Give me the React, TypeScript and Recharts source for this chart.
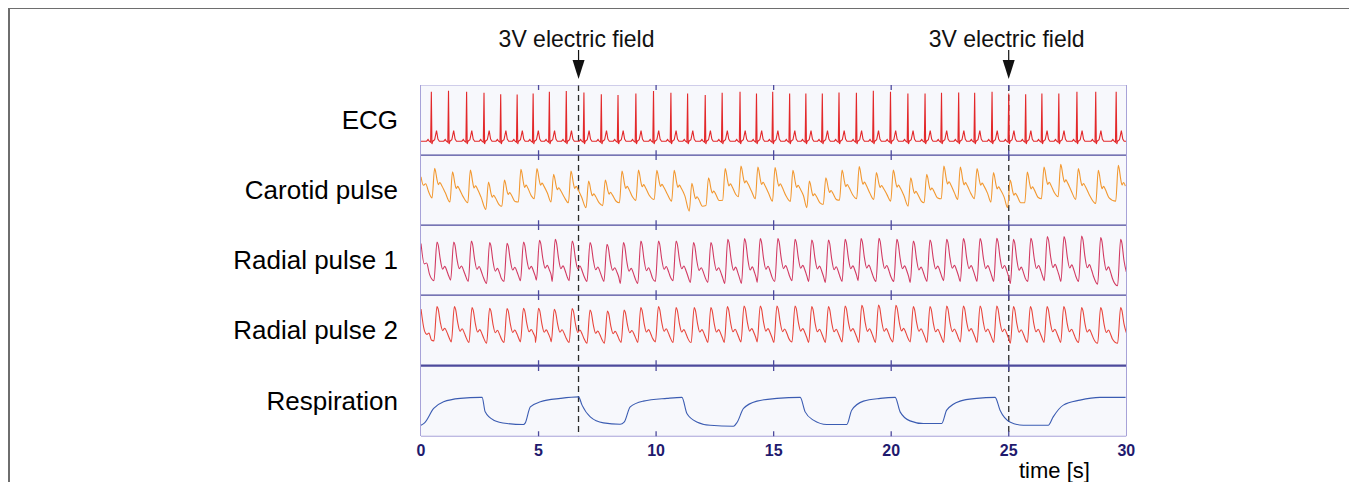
import React from "react";
import { LineChart, Line, XAxis, YAxis, ReferenceLine } from "recharts";

// values (time in s, amplitude in % of panel height)
const stimTimes = [6.7, 25];
const stimLabel = "3V electric field";
const innerTicks = [5, 10, 15, 20, 25];
const timeTicks = [0, 5, 10, 15, 20, 25, 30];
const channelNames = ["ECG", "Carotid pulse", "Radial pulse 1", "Radial pulse 2", "Respiration"];

const ecgBeatTimes = [0.44, 1.17, 1.94, 2.68, 3.39, 4.09, 4.77, 5.46, 6.18, 6.93, 7.67, 8.38, 9.14, 9.89, 10.63, 11.34, 12.09, 12.81, 13.57, 14.27, 14.96, 15.68, 16.37, 17.07, 17.78, 18.52, 19.24, 19.97, 20.71, 21.44, 22.14, 22.87, 23.55, 24.29, 25.0, 25.72, 26.41, 27.13, 27.9, 28.7, 29.57];
const ecgPeaks = [90.4, 91.8, 90.4, 88.9, 87, 86.5, 88, 90.4, 91.3, 89.4, 87, 85.6, 88, 91.3, 88.9, 88, 85.6, 88.9, 90.4, 88, 90.4, 88, 88, 88, 89.4, 88.9, 91.8, 90.4, 88, 88, 88.9, 89.4, 88.9, 90.4, 88, 87, 88, 88, 90.4, 90.4, 90.4];
const ecgBaseline = 20;
// one beat around the R wave: [seconds from R, offset from baseline]
const ecgBefore = [[-0.2, 0], [-0.14, 2.5], [-0.09, 0], [-0.03, -1.5]];
const ecgAfter = [[0.025, -4], [0.06, 0], [0.14, 2], [0.22, 15], [0.28, 3], [0.34, 0]];

const carotidTimes = [0.58, 1.34, 2.1, 2.87, 3.55, 4.25, 4.93, 5.64, 6.38, 7.13, 7.84, 8.55, 9.25, 10.03, 10.77, 11.52, 12.23, 12.94, 13.61, 14.33, 15.06, 15.82, 16.52, 17.22, 17.91, 18.64, 19.37, 20.09, 20.83, 21.51, 22.24, 22.94, 23.65, 24.35, 25.06, 25.79, 26.5, 27.21, 27.96, 28.81, 29.66];
const carotidPeaks = [81, 76, 78.6, 61.4, 64.3, 79.6, 80.6, 72.4, 77.1, 62.9, 64.3, 77.1, 78.6, 78.1, 78.1, 59.6, 67.7, 80.6, 84.3, 82.9, 82, 78.1, 62.9, 67.7, 78.6, 83.4, 74.9, 78.6, 67.7, 72.4, 84.3, 82.9, 80.6, 74.9, 64.3, 75.7, 82.9, 86.7, 80.6, 78.1, 85.3];
const carotidTroughs = [39, 33, 32, 22.4, 27, 33, 37.7, 33, 32, 24.9, 28, 32, 35.3, 36.7, 34.3, 20, 28, 35.7, 40.6, 37.7, 34.3, 34, 24.9, 29.6, 35.7, 37.7, 36.7, 34.3, 27.1, 32, 37.7, 36.7, 37.7, 32.9, 24.9, 32, 37.7, 40.6, 36.7, 31, 34.3];
const carotidStart = [[0, 68.8], [0.1, 57], [0.2, 59], [0.32, 48]];
const carotidShape = [[0.04, 0.9], [0.1, 0.62], [0.16, 0.45], [0.22, 0.52], [0.3, 0.42], [0.45, 0.18]];

const radial1Times = [0.68, 1.39, 2.14, 2.92, 3.66, 4.36, 5.04, 5.71, 6.43, 7.19, 7.91, 8.61, 9.35, 10.1, 10.85, 11.59, 12.33, 13.05, 13.76, 14.43, 15.18, 15.91, 16.62, 17.33, 18.04, 18.72, 19.48, 20.24, 20.94, 21.65, 22.36, 23.07, 23.78, 24.49, 25.2, 25.94, 26.64, 27.35, 28.1, 28.91, 29.76];
const radial1Peaks = [75.7, 75.7, 77.1, 74.9, 73.9, 75.7, 78.1, 79.6, 77.1, 74.9, 72.4, 74.9, 77.1, 77.1, 77.1, 74.9, 74.9, 79.6, 80.6, 80.6, 80.6, 79.6, 78.6, 78.6, 79.6, 80.6, 81, 79.6, 77.1, 78.6, 79.6, 80.6, 80.6, 81, 79.6, 81, 83.4, 83.4, 84.3, 82, 79.6];
const radial1Troughs = [20.7, 21.6, 19.7, 16.8, 19.7, 20.7, 21.6, 19.7, 20.7, 19.7, 19.7, 16.8, 16.8, 19.7, 20.7, 18.3, 18.3, 16.8, 16.8, 18.3, 19.7, 20.7, 19.7, 18.3, 19.7, 20.7, 19.7, 19.7, 18.3, 19.7, 20.7, 19.7, 19.7, 19.7, 16.8, 19.7, 20.7, 19.7, 19.7, 15.9, 13.5];
const radial1Start = [[0, 73.6], [0.14, 44.7], [0.24, 46], [0.36, 30]];

const radial2Times = [0.68, 1.42, 2.17, 2.92, 3.66, 4.36, 5.0, 5.67, 6.43, 7.19, 7.93, 8.64, 9.35, 10.1, 10.85, 11.62, 12.33, 13.03, 13.74, 14.43, 15.14, 15.91, 16.62, 17.33, 18.04, 18.75, 19.46, 20.2, 20.94, 21.65, 22.36, 23.07, 23.78, 24.49, 25.2, 25.92, 26.63, 27.34, 28.1, 28.91, 29.76];
const radial2Peaks = [83.5, 83.5, 82.1, 81.1, 80.7, 81.1, 81.1, 79.7, 80.7, 78.7, 77.2, 78.7, 82.1, 83.5, 82.1, 82.1, 82.1, 83.5, 84.4, 84.4, 84.4, 84.4, 83.5, 83.5, 84.4, 85.3, 85.8, 85.3, 83.5, 83.5, 84.4, 84.4, 84.4, 84.4, 83.5, 83.5, 83.5, 83.5, 82.1, 82.1, 82.1];
const radial2Troughs = [34.7, 33.3, 32.3, 31.3, 32.3, 33.3, 32.3, 33.3, 32.3, 31.3, 31.3, 32.3, 32.3, 33.3, 32.3, 32.3, 32.3, 32.3, 33.3, 33.3, 32.3, 33.3, 32.3, 32.3, 33.3, 32.3, 32.3, 33.3, 33.3, 32.3, 32.3, 33.3, 32.3, 32.3, 31.3, 32.3, 32.3, 32.3, 32.3, 31.3, 31.3];
const radial2Start = [[0, 80], [0.14, 50], [0.25, 44], [0.34, 46], [0.44, 36]];
const radialShape = [[0.05, 0.93], [0.14, 0.55], [0.24, 0.3], [0.33, 0.37], [0.43, 0.24], [0.5, 0.12]];

const respTimes = [0, 0.14, 0.54, 0.96, 1.67, 2.52, 2.6, 2.73, 3.09, 3.66, 4.36, 4.43, 4.65, 5.08, 5.93, 6.7, 6.85, 7.2, 7.76, 8.47, 8.64, 8.9, 9.46, 10.46, 11.1, 11.31, 11.73, 12.3, 13.29, 13.45, 13.72, 14.29, 15.14, 16.13, 16.34, 16.69, 17.26, 18.11, 18.32, 18.82, 19.53, 20.17, 20.38, 20.8, 21.37, 22.15, 22.36, 22.93, 23.64, 24.42, 24.63, 25.05, 25.62, 26.68, 26.89, 27.32, 28.03, 28.88, 29.97];
const respValues = [15.7, 18.6, 39.6, 49, 53.9, 55.3, 55.3, 34.7, 22.9, 18.1, 16.7, 18.6, 41.9, 49, 53.9, 56.1, 44.3, 27.6, 19, 17.1, 20, 41.9, 50, 53.9, 55.3, 32.4, 20.4, 15.7, 14.3, 20, 39.6, 50, 53.9, 55.3, 34.7, 22.9, 16.7, 16.7, 37.1, 50, 53.9, 55.3, 34.7, 21.9, 18.1, 18.1, 37.1, 50, 53.9, 55.3, 37.1, 20.4, 15.7, 15.7, 27.6, 44.3, 51.4, 55.3, 55.3];

type Pt = { t: number; v: number };

const inRange = (pts: Pt[]) => pts.filter((p) => p.t >= 0 && p.t <= 30).sort((a, b) => a.t - b.t);

function buildEcg(): Pt[] {
  const pts: Pt[] = [{ t: 0, v: ecgBaseline }];
  ecgBeatTimes.forEach((bt, i) => {
    ecgBefore.forEach(([dt, dv]) => pts.push({ t: bt + dt, v: ecgBaseline + dv }));
    pts.push({ t: bt, v: ecgPeaks[i] });
    ecgAfter.forEach(([dt, dv]) => pts.push({ t: bt + dt, v: ecgBaseline + dv }));
  });
  pts.push({ t: 30, v: ecgBaseline });
  return inRange(pts);
}

function buildPulse(start: number[][], times: number[], peaks: number[], troughs: number[], footDt: number, shape: number[][]): Pt[] {
  const pts: Pt[] = start.map(([t, v]) => ({ t, v }));
  times.forEach((pt, i) => {
    const lo = troughs[i];
    const hi = peaks[i];
    pts.push({ t: pt - footDt, v: lo });
    pts.push({ t: pt, v: hi });
    shape.forEach(([dt, f]) => pts.push({ t: pt + dt, v: lo + f * (hi - lo) }));
  });
  return inRange(pts);
}

const channelData: Pt[][] = [
  buildEcg(),
  buildPulse(carotidStart, carotidTimes, carotidPeaks, carotidTroughs, 0.11, carotidShape),
  buildPulse(radial1Start, radial1Times, radial1Peaks, radial1Troughs, 0.13, radialShape),
  buildPulse(radial2Start, radial2Times, radial2Peaks, radial2Troughs, 0.13, radialShape),
  respTimes.map((t, i) => ({ t, v: respValues[i] })),
];
const channelColors = ["#e3282a", "#f29830", "#d23a62", "#e8453c", "#3b5cb2"];
const channelCurves: ("linear" | "monotone")[] = ["linear", "monotone", "monotone", "monotone", "monotone"];

const PLOT_LEFT = 412.7;
const PLOT_W = 705.3;
const SIDE = 20; // room for the end tick labels
const PANEL_TOP = 76.7;
const PANEL_H = 70.25;
const FRAME = "#a7a2d8";
const SEP = "#4d4a9c";
const NAVY = "#1f1a6e";
const FONT = "'Liberation Sans', Arial, sans-serif";

// tick marks only, no tick text
const NoTickText = () => <g />;

function ArrowLabel(props: any) {
  const vb = props.viewBox || {};
  const x = vb.x;
  const y = vb.y;
  return (
    <g>
      <text x={x - 2} y={y + 27} textAnchor="middle" fontSize={23} fontFamily={FONT} fill="#111">
        {stimLabel}
      </text>
      <line x1={x} x2={x} y1={y + 30} y2={y + 42} stroke="#111" strokeWidth={1.2} />
      <polygon points={`${x - 6},${y + 40} ${x + 6},${y + 40} ${x},${y + 59}`} fill="#111" />
    </g>
  );
}

function Panel({ index }: { index: number }) {
  const last = index === channelData.length - 1;
  const first = index === 0;
  const h = last ? PANEL_H + 30 : PANEL_H;
  return (
    <div style={{ position: "absolute", left: PLOT_LEFT - SIDE, top: PANEL_TOP + index * PANEL_H, width: PLOT_W + 2 * SIDE, height: h }}>
      <div style={{ position: "absolute", left: SIDE, top: 0, width: PLOT_W, height: PANEL_H, background: "#f7f8fc" }} />
      <LineChart
        width={PLOT_W + 2 * SIDE}
        height={h}
        data={channelData[index]}
        margin={{ top: 0, right: SIDE, bottom: 0, left: SIDE }}
        style={{ position: "absolute", left: 0, top: 0 }}
      >
        <XAxis
          xAxisId="top"
          dataKey="t"
          type="number"
          domain={[0, 30]}
          orientation="top"
          mirror
          height={10}
          ticks={innerTicks}
          interval={0}
          tick={NoTickText}
          tickSize={5}
          axisLine={{ stroke: first ? FRAME : SEP, strokeWidth: first ? 1 : 1.3 }}
          tickLine={{ stroke: SEP, strokeWidth: 1.3 }}
        />
        <XAxis
          xAxisId="bottom"
          dataKey="t"
          type="number"
          domain={[0, 30]}
          orientation="bottom"
          mirror
          height={10}
          ticks={innerTicks}
          interval={0}
          tick={NoTickText}
          tickSize={5}
          axisLine={{ stroke: last ? FRAME : SEP, strokeWidth: last ? 1 : 1.3 }}
          tickLine={{ stroke: SEP, strokeWidth: 1.3 }}
        />
        {last && (
          <XAxis
            xAxisId="labels"
            dataKey="t"
            type="number"
            domain={[0, 30]}
            orientation="bottom"
            height={30}
            ticks={timeTicks}
            interval={0}
            axisLine={false}
            tickLine={false}
            tick={{ fill: NAVY, fontSize: 16, fontWeight: "bold", fontFamily: FONT }}
          />
        )}
        <YAxis yAxisId="y" domain={[0, 100]} hide />
        {stimTimes.map((s) => (
          <ReferenceLine key={s} xAxisId="top" yAxisId="y" x={s} stroke="#2a2a2a" strokeWidth={1.3} strokeDasharray="6 4" />
        ))}
        <Line
          xAxisId="top"
          yAxisId="y"
          dataKey="v"
          type={channelCurves[index]}
          stroke={channelColors[index]}
          strokeWidth={1.1}
          dot={false}
          isAnimationActive={false}
        />
      </LineChart>
    </div>
  );
}

const annotationData = [{ t: 0, v: 0 }, { t: 30, v: 0 }];

export default function App() {
  return (
    <div style={{ position: "relative", width: 1341, height: 474, fontFamily: FONT }}>
      <div style={{ position: "absolute", left: 0, top: -1, width: 1347, height: 482, boxSizing: "border-box", borderTop: "2px solid #6e6e6e", borderLeft: "2px solid #6e6e6e", borderRight: "2px solid #6e6e6e" }} />
      <div style={{ position: "absolute", left: PLOT_LEFT, top: 12, width: PLOT_W, height: PANEL_TOP - 12 }}>
        <LineChart width={PLOT_W} height={PANEL_TOP - 12} data={annotationData} margin={{ top: 0, right: 0, bottom: 0, left: 0 }}>
          <XAxis xAxisId="a" dataKey="t" type="number" domain={[0, 30]} hide />
          <YAxis yAxisId="a" domain={[0, 1]} hide />
          <Line xAxisId="a" yAxisId="a" dataKey="v" stroke="none" dot={false} isAnimationActive={false} />
          {stimTimes.map((s) => (
            <ReferenceLine key={s} xAxisId="a" yAxisId="a" x={s} stroke="none" label={<ArrowLabel />} />
          ))}
        </LineChart>
      </div>
      {channelData.map((_, i) => (
        <Panel key={i} index={i} />
      ))}
      <div style={{ position: "absolute", left: PLOT_LEFT - 0.5, top: PANEL_TOP, width: PLOT_W, height: PANEL_H * 5, borderLeft: `1px solid ${FRAME}`, borderRight: `1px solid ${FRAME}`, pointerEvents: "none" }} />
      {channelNames.map((name, i) => (
        <div
          key={name}
          style={{ position: "absolute", left: 0, width: 390, top: PANEL_TOP + i * PANEL_H, height: PANEL_H, lineHeight: `${PANEL_H}px`, textAlign: "right", fontSize: 26, color: "#000" }}
        >
          {name}
        </div>
      ))}
      <div style={{ position: "absolute", left: 1011, top: 452, fontSize: 22, lineHeight: "22px", color: "#000" }}>time [s]</div>
    </div>
  );
}
